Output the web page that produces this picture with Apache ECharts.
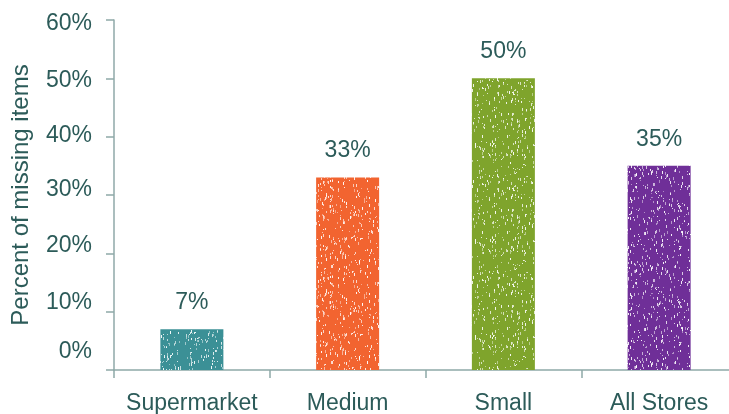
<!DOCTYPE html>
<html>
<head>
<meta charset="utf-8">
<script src="https://cdn.jsdelivr.net/npm/echarts@6/dist/echarts.min.js"></script>
<style>
  html, body { margin: 0; padding: 0; background: #fff; }
  #chart { width: 729px; height: 414px; }
</style>
</head>
<body>
<div id="chart"></div>
<script>
// Share of items missing, by store type
const categories = ['Supermarket', 'Medium', 'Small', 'All Stores'];
const missingPct = [7, 33, 50, 35];
const barColors = ['#3b9096', '#f26430', '#7fa42c', '#6f2f98'];
const yTicks = [0, 10, 20, 30, 40, 50, 60];
// vertical nudge (px) of each tick label relative to its tick
const yLabelShift = { 0: -18, 10: -9, 20: -8, 30: -5, 40: -1, 50: 2, 60: 4 };

const textColor = '#2c5b59';
const axisColor = '#8fa9a8';

// Chalk-like fill: base colour with short pale strokes (seeded, so it is stable)
function chalkPattern(color, seed) {
  const size = 96;
  const c = document.createElement('canvas');
  c.width = size; c.height = size;
  const g = c.getContext('2d');
  g.fillStyle = color;
  g.fillRect(0, 0, size, size);
  let s = seed;
  const rnd = () => { s = (s * 1664525 + 1013904223) % 4294967296; return s / 4294967296; };
  for (let i = 0; i < 420; i++) {
    const x = Math.floor(rnd() * size);
    const y = Math.floor(rnd() * size);
    const h = 1 + Math.floor(rnd() * 3);
    g.fillStyle = 'rgba(255,255,255,' + (0.4 + rnd() * 0.55).toFixed(2) + ')';
    g.fillRect(x, y, 1, h);
  }
  return c;
}

const rich = {};
yTicks.forEach(v => {
  const d = yLabelShift[v];
  rich['t' + v] = {
    color: textColor, fontSize: 23,
    padding: d >= 0 ? [2 * d, 0, 0, 0] : [0, 0, -2 * d, 0]
  };
});

const chart = echarts.init(document.getElementById('chart'));
chart.setOption({
  animation: false,
  textStyle: { fontFamily: 'Liberation Sans, Arial, sans-serif' },
  grid: { left: 114, right: -8, top: 20, bottom: 44, outerBoundsMode: 'none', containLabel: false },
  xAxis: {
    type: 'category',
    data: categories,
    axisLine: { lineStyle: { color: axisColor, width: 1.5 } },
    axisTick: { show: true, interval: 0, length: 8, lineStyle: { color: axisColor, width: 1.5 } },
    axisLabel: { color: textColor, fontSize: 23, margin: 22, interval: 0, hideOverlap: false }
  },
  yAxis: {
    type: 'value',
    min: 0,
    max: 60,
    interval: 10,
    name: 'Percent of missing items',
    nameLocation: 'middle',
    nameGap: 81,
    nameTextStyle: { color: textColor, fontSize: 24 },
    splitLine: { show: false },
    axisLine: { show: true, lineStyle: { color: axisColor, width: 1.5 } },
    axisTick: { show: true, length: 8, lineStyle: { color: axisColor, width: 1.5 } },
    axisLabel: {
      color: textColor, fontSize: 23, margin: 22,
      formatter: v => yTicks.includes(v) ? '{t' + v + '|' + v + '%}' : '',
      rich: rich
    }
  },
  series: [{
    type: 'bar',
    barWidth: 63,
    data: missingPct.map((v, i) => ({
      value: v,
      itemStyle: { color: { image: chalkPattern(barColors[i], 17 + i * 131), repeat: 'repeat' } }
    })),
    label: {
      show: true,
      position: 'top',
      distance: 15,
      color: textColor,
      fontSize: 23,
      formatter: p => p.value + '%'
    }
  }]
});
</script>
</body>
</html>
